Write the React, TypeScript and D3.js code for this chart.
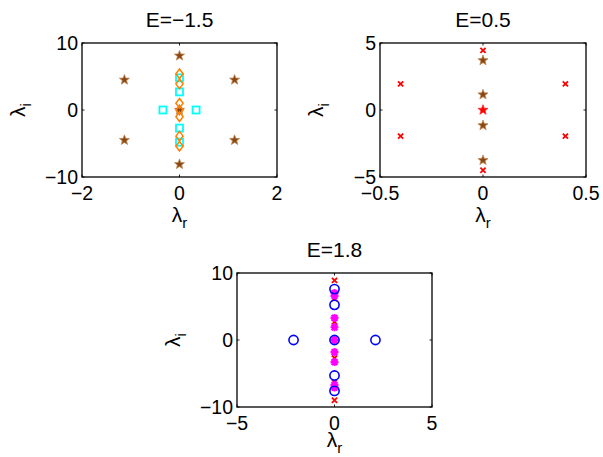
import React from "react";
import * as d3 from "d3";

// ---------- data ----------
const titles = ["E=\u22121.5", "E=0.5", "E=1.8"];
const p1XTicks = [-2, 0, 2];
const p1YTicks = [-10, 0, 10];
const p2XTicks = [-0.5, 0, 0.5];
const p2YTicks = [-5, 0, 5];
const p3XTicks = [-5, 0, 5];
const p3YTicks = [-10, 0, 10];

// panel 1 (E=-1.5)
const p1Stars: [number, number][] = [
  [-1.13, 4.5], [1.13, 4.5], [-1.13, -4.5], [1.13, -4.5], [0, 8.1], [0, -8.1], [0, 0],
];
const p1Squares: [number, number][] = [
  [-0.34, 0], [0.34, 0], [0, 4.8], [0, 2.7], [0, -2.7], [0, -4.8],
];
const p1Diamonds: [number, number][] = [
  [0, 5.4], [0, 3.9], [0, 1.0], [0, 0], [0, -1.0], [0, -3.9], [0, -5.4],
];

// panel 2 (E=0.5)
const p2Crosses: [number, number][] = [
  [-0.4, 1.95], [0.4, 1.95], [-0.4, -1.95], [0.4, -1.95], [0, 4.45], [0, -4.5],
];
const p2Stars: [number, number][] = [[0, 3.7], [0, 1.15], [0, -1.15], [0, -3.75]];
const p2RedStars: [number, number][] = [[0, 0]];

// panel 3 (E=1.8)
const p3Circles: [number, number][] = [
  [-2.1, 0], [2.1, 0], [0, 7.6], [0, 5.25], [0, 0], [0, -5.3], [0, -7.6],
];
const p3Crosses: [number, number][] = [
  [0, 8.9], [0, 6.2], [0, 2.7], [0, -2.7], [0, -6.3], [0, -9.0],
];
const p3Asterisks: [number, number][] = [
  [0, 7.0], [0, 6.6], [0, 3.3], [0, 1.9], [0, 0], [0, -1.8], [0, -3.3], [0, -6.7], [0, -7.1],
];

// ---------- styles ----------
const FONT = "'Liberation Sans', Arial, Helvetica, sans-serif";
const BROWN = "#8a4712";
const BROWN_EDGE = "#c08a55";

type Pt = [number, number];

function starPath(r: number) {
  const pts: string[] = [];
  for (let i = 0; i < 10; i++) {
    const a = -Math.PI / 2 + (i * Math.PI) / 5;
    const rr = i % 2 === 0 ? r : r * 0.42;
    pts.push(`${(rr * Math.cos(a)).toFixed(2)},${(rr * Math.sin(a)).toFixed(2)}`);
  }
  return "M" + pts.join("L") + "Z";
}

const Marker = ({ kind, x, y }: { kind: string; x: number; y: number }) => {
  const t = `translate(${x},${y})`;
  switch (kind) {
    case "star":
      return <path d={starPath(5.3)} transform={t} fill={BROWN} stroke={BROWN_EDGE} strokeWidth={0.8} />;
    case "redstar":
      return <path d={starPath(5.3)} transform={t} fill="#ff0000" stroke="#ff3030" strokeWidth={0.8} />;
    case "square":
      return <rect x={x - 3.5} y={y - 3.5} width={7} height={7} fill="none" stroke="#00ffff" strokeWidth={1.8} />;
    case "diamond":
      return <path d="M0,-4.8L3.6,0L0,4.8L-3.6,0Z" transform={t} fill="none" stroke="#ff8000" strokeWidth={1.5} />;
    case "cross":
      return <path d="M-2.6,-2.6L2.6,2.6M-2.6,2.6L2.6,-2.6" transform={t} stroke="#ff0000" strokeWidth={1.8} fill="none" />;
    case "circle":
      return <circle cx={x} cy={y} r={4.6} fill="none" stroke="#0000ff" strokeWidth={1.6} />;
    case "asterisk":
      return (
        <path
          d="M0,-4L0,4M-4,0L4,0M-2.9,-2.9L2.9,2.9M-2.9,2.9L2.9,-2.9"
          transform={t}
          stroke="#ff00ff"
          strokeWidth={2.2}
          fill="none"
        />
      );
    default:
      return null;
  }
};

type Series = { kind: string; data: Pt[] };

type PanelProps = {
  left: number; right: number; top: number; bottom: number;
  xDomain: [number, number]; yDomain: [number, number];
  xTicks: number[]; yTicks: number[];
  title: string; series: Series[]; xLabelOffset: number;
};

const fmt = (v: number) => (v < 0 ? "\u2212" + String(Math.abs(v)) : String(v));

const Panel = (p: PanelProps) => {
  const x = d3.scaleLinear().domain(p.xDomain).range([p.left, p.right]);
  const y = d3.scaleLinear().domain(p.yDomain).range([p.bottom, p.top]);
  const cx = (p.left + p.right) / 2;
  const cy = (p.top + p.bottom) / 2;
  const tl = 2.5;
  return (
    <g>
      {p.xTicks.map((t, i) => (
        <g key={"xt" + i}>
          <line x1={x(t)} x2={x(t)} y1={p.bottom} y2={p.bottom - tl} stroke="#222" strokeWidth={1} />
          <line x1={x(t)} x2={x(t)} y1={p.top} y2={p.top + tl} stroke="#222" strokeWidth={1} />
          <text x={x(t)} y={p.bottom + 23} textAnchor="middle" fontSize={19.5} fontFamily={FONT} fill="#000">
            {fmt(t)}
          </text>
        </g>
      ))}
      {p.yTicks.map((t, i) => (
        <g key={"yt" + i}>
          <line x1={p.left} x2={p.left + tl} y1={y(t)} y2={y(t)} stroke="#222" strokeWidth={1} />
          <line x1={p.right} x2={p.right - tl} y1={y(t)} y2={y(t)} stroke="#222" strokeWidth={1} />
          <text x={p.left - 4} y={y(t) + 7} textAnchor="end" fontSize={19.5} fontFamily={FONT} fill="#000">
            {fmt(t)}
          </text>
        </g>
      ))}
      {p.series.map((s, si) => (
        <g key={"s" + si}>
          {s.data.map((d, di) => (
            <Marker key={di} kind={s.kind} x={x(d[0])} y={y(d[1])} />
          ))}
        </g>
      ))}
      <rect x={p.left} y={p.top} width={p.right - p.left} height={p.bottom - p.top} fill="none" stroke="#000" strokeWidth={1.3} />
      <text x={cx} y={p.top - 16} textAnchor="middle" fontSize={21} fontFamily={FONT} fill="#000">
        {p.title}
      </text>
      <text x={cx} y={p.bottom + p.xLabelOffset} textAnchor="middle" fontSize={21} fontFamily={FONT} fill="#000">
        {"\u03bb"}
        <tspan fontSize={15} dy={6}>r</tspan>
      </text>
      <text
        transform={`translate(${p.left - 57},${cy}) rotate(-90)`}
        textAnchor="middle"
        fontSize={21}
        fontFamily={FONT}
        fill="#000"
      >
        {"\u03bb"}
        <tspan fontSize={15} dy={6}>i</tspan>
      </text>
    </g>
  );
};

export default function App() {
  return (
    <svg
      width={603}
      height={457}
      style={{ position: "absolute", left: 0, top: 0, background: "#fff" }}
    >
      <rect x={0} y={0} width={603} height={457} fill="#fff" />
      <Panel
        left={82} right={277} top={43} bottom={177}
        xDomain={[-2, 2]} yDomain={[-10, 10]}
        xTicks={p1XTicks} yTicks={p1YTicks}
        title={titles[0]} xLabelOffset={45}
        series={[
          { kind: "square", data: p1Squares },
          { kind: "star", data: p1Stars },
          { kind: "diamond", data: p1Diamonds },
        ]}
      />
      <Panel
        left={380} right={586} top={43} bottom={177}
        xDomain={[-0.5, 0.5]} yDomain={[-5, 5]}
        xTicks={p2XTicks} yTicks={p2YTicks}
        title={titles[1]} xLabelOffset={45}
        series={[
          { kind: "cross", data: p2Crosses },
          { kind: "star", data: p2Stars },
          { kind: "redstar", data: p2RedStars },
        ]}
      />
      <Panel
        left={237} right={432} top={273} bottom={407}
        xDomain={[-5, 5]} yDomain={[-10, 10]}
        xTicks={p3XTicks} yTicks={p3YTicks}
        title={titles[2]} xLabelOffset={40}
        series={[
          { kind: "cross", data: p3Crosses },
          { kind: "asterisk", data: p3Asterisks },
          { kind: "circle", data: p3Circles },
        ]}
      />
    </svg>
  );
}
